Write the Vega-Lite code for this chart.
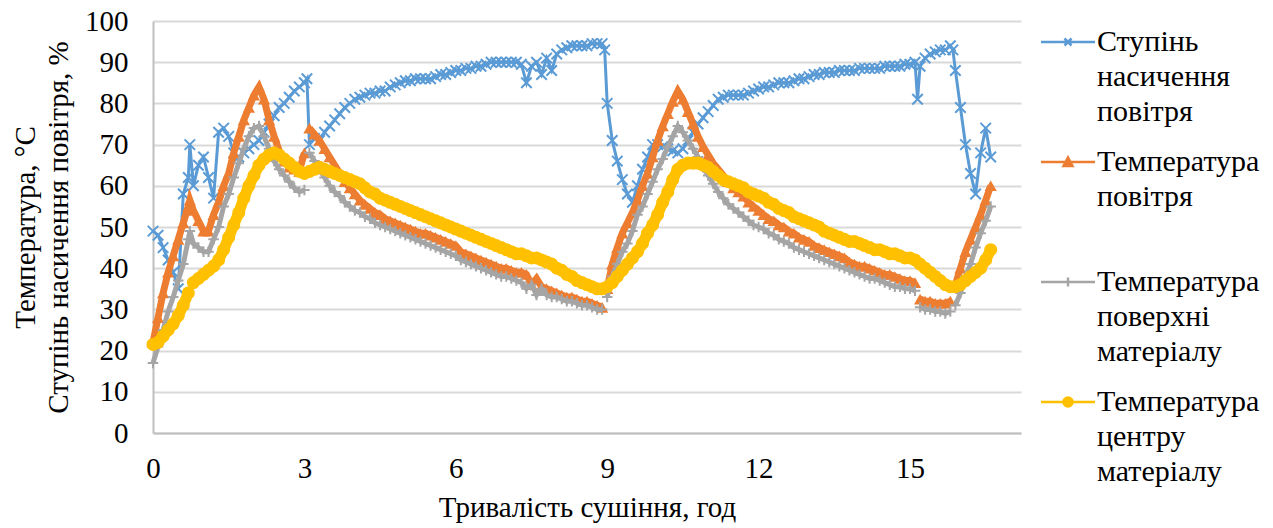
{
  "$schema": "https://vega.github.io/schema/vega-lite/v6.json",
  "width": 868,
  "height": 412,
  "autosize": {"type": "none"},
  "padding": {"left": 153, "top": 21, "right": 252, "bottom": 95},
  "background": "white",
  "config": {
    "view": {"stroke": null},
    "font": "Liberation Serif, Times New Roman, DejaVu Serif, serif",
    "axis": {
      "labelFont": "Liberation Serif, Times New Roman, DejaVu Serif, serif",
      "labelFontSize": 29,
      "labelColor": "#000000",
      "titleFont": "Liberation Serif, Times New Roman, DejaVu Serif, serif",
      "titleFontSize": 29,
      "titleFontWeight": "normal",
      "titleColor": "#000000",
      "ticks": false,
      "tickSize": 0,
      "domainColor": "#bfbfbf",
      "domainWidth": 2,
      "gridColor": "#d9d9d9",
      "gridWidth": 2
    }
  },
  "data": {
    "values": [
      {"t":0.0,"b":49,"a":22,"p":17,"c":21.5},
      {"t":0.1,"b":48,"a":28,"p":21,"c":22},
      {"t":0.2,"b":45,"a":34,"p":25,"c":23.5},
      {"t":0.3,"b":42,"a":39,"p":29.5,"c":25},
      {"t":0.4,"b":39,"a":43,"p":33,"c":26.5},
      {"t":0.5,"b":35,"a":47,"p":37,"c":28.5},
      {"t":0.6,"b":58,"a":51,"p":41,"c":31},
      {"t":0.7,"b":62,"a":55,"p":47,"c":34},
      {"t":0.73,"b":70,"a":56.5,"p":49},
      {"t":0.8,"b":60,"a":54,"p":46,"c":36.5},
      {"t":0.9,"b":65,"a":51.5,"p":45,"c":37.5},
      {"t":1.0,"b":67,"a":49,"p":44,"c":38.5},
      {"t":1.1,"b":62,"a":49,"p":44,"c":39.5},
      {"t":1.2,"b":57,"a":53,"p":47,"c":40.5},
      {"t":1.3,"b":73,"a":56,"p":50,"c":42},
      {"t":1.4,"b":74,"a":60,"p":55,"c":44.5},
      {"t":1.5,"b":72,"a":63,"p":58,"c":47.5},
      {"t":1.6,"b":68,"a":68,"p":62,"c":50.5},
      {"t":1.7,"b":67,"a":72,"p":65.5,"c":53.5},
      {"t":1.8,"b":68,"a":76,"p":69,"c":57},
      {"t":1.9,"b":69,"a":79,"p":72,"c":60},
      {"t":2.0,"b":70,"a":82,"p":74,"c":62.5},
      {"t":2.1,"b":71,"a":84,"p":74.5,"c":65},
      {"t":2.2,"b":73,"a":81,"p":72,"c":66.5},
      {"t":2.3,"b":75,"a":76,"p":69,"c":67.5},
      {"t":2.4,"b":77,"a":72,"p":66,"c":68},
      {"t":2.5,"b":79,"a":68.5,"p":64,"c":67.5},
      {"t":2.6,"b":80,"a":66,"p":62.5,"c":66.5},
      {"t":2.7,"b":81.5,"a":64.5,"p":61,"c":65.5},
      {"t":2.8,"b":83,"a":64,"p":59.5,"c":64.5},
      {"t":2.9,"b":84,"a":63.5,"p":58.5,"c":63.5},
      {"t":3.0,"b":85,"a":68,"p":59,"c":63},
      {"t":3.05,"b":86},
      {"t":3.1,"b":70,"a":74,"p":68,"c":63.5},
      {"t":3.2,"b":71.5,"a":72.5,"p":66,"c":64},
      {"t":3.3,"b":71,"a":71,"p":64,"c":64.5},
      {"t":3.4,"b":73,"a":69,"p":62,"c":64},
      {"t":3.5,"b":74.5,"a":67,"p":60,"c":63.5},
      {"t":3.6,"b":76,"a":65,"p":58.5,"c":63},
      {"t":3.7,"b":77.5,"a":63,"p":57.5,"c":62.5},
      {"t":3.8,"b":79,"a":61,"p":56,"c":62},
      {"t":3.9,"b":80,"a":59.5,"p":55,"c":61.5},
      {"t":4.0,"b":81,"a":58,"p":54,"c":61},
      {"t":4.1,"b":81.5,"a":56.5,"p":53.5,"c":60.5},
      {"t":4.2,"b":82,"a":55.5,"p":52.5,"c":59.5},
      {"t":4.3,"b":82.5,"a":54.5,"p":52,"c":58.5},
      {"t":4.4,"b":82.5,"a":53.5,"p":51,"c":58},
      {"t":4.5,"b":83,"a":53,"p":50.5,"c":57},
      {"t":4.6,"b":83,"a":52,"p":50,"c":56.5},
      {"t":4.7,"b":84,"a":51.5,"p":49.5,"c":56},
      {"t":4.8,"b":84.5,"a":51,"p":49,"c":55.5},
      {"t":4.9,"b":85,"a":50.5,"p":48.5,"c":55},
      {"t":5.0,"b":85.5,"a":50,"p":48,"c":54.5},
      {"t":5.1,"b":85.5,"a":49.5,"p":47.5,"c":54},
      {"t":5.2,"b":86,"a":49,"p":47,"c":53.5},
      {"t":5.3,"b":86,"a":48.5,"p":46.5,"c":53},
      {"t":5.4,"b":86,"a":48.5,"p":46,"c":52.5},
      {"t":5.5,"b":86,"a":48,"p":45.5,"c":52},
      {"t":5.6,"b":86.5,"a":47.5,"p":45,"c":51.5},
      {"t":5.7,"b":87,"a":47,"p":44.5,"c":51},
      {"t":5.8,"b":87,"a":46.5,"p":44,"c":50.5},
      {"t":5.9,"b":87.5,"a":46,"p":43.5,"c":50},
      {"t":6.0,"b":88,"a":45.5,"p":43,"c":49.5},
      {"t":6.1,"b":88,"a":44,"p":42,"c":49},
      {"t":6.2,"b":88.5,"a":43.5,"p":41.5,"c":48.5},
      {"t":6.3,"b":88.5,"a":43,"p":41,"c":48},
      {"t":6.4,"b":89,"a":42.5,"p":40.5,"c":47.5},
      {"t":6.5,"b":89,"a":42,"p":40,"c":47},
      {"t":6.6,"b":89.5,"a":41.5,"p":39.5,"c":46.5},
      {"t":6.7,"b":90,"a":41,"p":39,"c":46},
      {"t":6.8,"b":90,"a":40.5,"p":38.5,"c":45.5},
      {"t":6.9,"b":90,"a":40,"p":38,"c":45},
      {"t":7.0,"b":90,"a":40,"p":38,"c":44.5},
      {"t":7.1,"b":90,"a":39.5,"p":37.5,"c":44},
      {"t":7.2,"b":90,"a":39,"p":37,"c":43.5},
      {"t":7.3,"b":89.5,"a":39,"p":36.5,"c":43.5},
      {"t":7.4,"b":85,"a":38.5,"p":35,"c":43},
      {"t":7.5,"b":89,"a":36,"p":36,"c":42.5},
      {"t":7.6,"b":90,"a":37.5,"p":33.5,"c":42.5},
      {"t":7.7,"b":87,"a":35.5,"p":35,"c":42},
      {"t":7.8,"b":91,"a":35,"p":33.5,"c":41.5},
      {"t":7.9,"b":88,"a":34.5,"p":33,"c":41},
      {"t":8.0,"b":92,"a":34,"p":33,"c":40},
      {"t":8.1,"b":93,"a":33.5,"p":32.5,"c":39.5},
      {"t":8.2,"b":93.5,"a":33,"p":32,"c":38.5},
      {"t":8.3,"b":94,"a":33,"p":32,"c":38},
      {"t":8.4,"b":94,"a":32.5,"p":31.5,"c":37},
      {"t":8.5,"b":94,"a":32,"p":31,"c":36.5},
      {"t":8.6,"b":94,"a":32,"p":31,"c":36},
      {"t":8.7,"b":94.5,"a":31.5,"p":30.5,"c":35.5},
      {"t":8.8,"b":94.5,"a":31,"p":30,"c":35},
      {"t":8.9,"b":94.5,"a":30.5,"p":30,"c":35},
      {"t":8.95,"b":93},
      {"t":9.0,"b":80,"a":35,"p":33,"c":35.5},
      {"t":9.1,"b":71,"a":41,"p":38,"c":36.5},
      {"t":9.2,"b":66,"a":45,"p":41,"c":38},
      {"t":9.3,"b":61.5,"a":48.5,"p":44,"c":39.5},
      {"t":9.4,"b":58,"a":51,"p":46,"c":41},
      {"t":9.5,"b":56,"a":53.5,"p":49,"c":42.5},
      {"t":9.6,"b":60,"a":56.5,"p":53,"c":44},
      {"t":9.7,"b":64,"a":60,"p":55,"c":46},
      {"t":9.8,"b":67,"a":63,"p":58,"c":48.5},
      {"t":9.9,"b":70,"a":67,"p":61,"c":50.5},
      {"t":10.0,"b":70,"a":71,"p":64,"c":53},
      {"t":10.1,"b":69.5,"a":74.5,"p":66.5,"c":56},
      {"t":10.2,"b":69,"a":77.5,"p":69.5,"c":58.5},
      {"t":10.3,"b":68.5,"a":80.5,"p":72,"c":61.5},
      {"t":10.4,"b":68,"a":83,"p":74.5,"c":64},
      {"t":10.5,"b":69,"a":81,"p":73,"c":65},
      {"t":10.6,"b":71,"a":78,"p":71,"c":65.5},
      {"t":10.7,"b":73,"a":75,"p":69,"c":65.5},
      {"t":10.8,"b":75,"a":72,"p":67,"c":65.5},
      {"t":10.9,"b":76.5,"a":69.5,"p":64.5,"c":65},
      {"t":11.0,"b":78,"a":67.5,"p":62.5,"c":64.5},
      {"t":11.1,"b":79.5,"a":65.5,"p":60.5,"c":63.5},
      {"t":11.2,"b":81,"a":64,"p":58.5,"c":62.5},
      {"t":11.3,"b":81.5,"a":62.5,"p":57,"c":61.5},
      {"t":11.4,"b":82,"a":61,"p":55.5,"c":61},
      {"t":11.5,"b":82,"a":59.5,"p":54.5,"c":60.5},
      {"t":11.6,"b":82,"a":58.5,"p":53.5,"c":60},
      {"t":11.7,"b":82,"a":57.5,"p":52.5,"c":59.5},
      {"t":11.8,"b":82.5,"a":56,"p":51.5,"c":58.5},
      {"t":11.9,"b":83,"a":55,"p":50.5,"c":58},
      {"t":12.0,"b":83.5,"a":54,"p":50,"c":57.5},
      {"t":12.1,"b":84,"a":53,"p":49.5,"c":57},
      {"t":12.2,"b":84,"a":52,"p":48.5,"c":56},
      {"t":12.3,"b":84.5,"a":51.5,"p":48,"c":55.5},
      {"t":12.4,"b":85,"a":50.5,"p":47,"c":54.5},
      {"t":12.5,"b":85,"a":50,"p":46.5,"c":54},
      {"t":12.6,"b":85,"a":49,"p":46,"c":53.5},
      {"t":12.7,"b":85.5,"a":48.5,"p":45,"c":52.5},
      {"t":12.8,"b":86,"a":47.5,"p":44.5,"c":52},
      {"t":12.9,"b":86,"a":47,"p":44,"c":51.5},
      {"t":13.0,"b":86.5,"a":46.5,"p":43.5,"c":51},
      {"t":13.1,"b":87,"a":45.5,"p":43,"c":50.5},
      {"t":13.2,"b":87,"a":45,"p":42.5,"c":50},
      {"t":13.3,"b":87.5,"a":44.5,"p":42,"c":49},
      {"t":13.4,"b":87.5,"a":44,"p":41.5,"c":48.5},
      {"t":13.5,"b":87.5,"a":43.5,"p":41,"c":48},
      {"t":13.6,"b":88,"a":43,"p":40.5,"c":47.5},
      {"t":13.7,"b":88,"a":42.5,"p":40,"c":47},
      {"t":13.8,"b":88,"a":41.5,"p":39.5,"c":46.5},
      {"t":13.9,"b":88,"a":41,"p":39,"c":46.5},
      {"t":14.0,"b":88.5,"a":40.5,"p":38.5,"c":46},
      {"t":14.1,"b":88.5,"a":40.5,"p":38,"c":45.5},
      {"t":14.2,"b":88.5,"a":40,"p":37.5,"c":45},
      {"t":14.3,"b":88.5,"a":39.5,"p":37.5,"c":44.5},
      {"t":14.4,"b":88.5,"a":39,"p":37,"c":44.5},
      {"t":14.5,"b":89,"a":38.5,"p":36.5,"c":44},
      {"t":14.6,"b":89,"a":38.5,"p":36,"c":43.5},
      {"t":14.7,"b":89,"a":38,"p":35.5,"c":43.5},
      {"t":14.8,"b":89,"a":37.5,"p":35.5,"c":43},
      {"t":14.9,"b":89.5,"a":37,"p":35,"c":42.5},
      {"t":15.0,"b":89.5,"a":37,"p":35,"c":42.5},
      {"t":15.1,"b":90,"a":36.5,"p":34.5,"c":42},
      {"t":15.15,"b":81},
      {"t":15.2,"b":89,"a":32.5,"p":30.5,"c":41},
      {"t":15.3,"b":91,"a":32,"p":30,"c":40},
      {"t":15.4,"b":92,"a":32,"p":30,"c":39},
      {"t":15.5,"b":92.5,"a":31.5,"p":29.5,"c":38},
      {"t":15.6,"b":93,"a":31.5,"p":29.5,"c":37},
      {"t":15.7,"b":93,"a":31.5,"p":29,"c":36},
      {"t":15.8,"b":94,"a":32,"p":29.5,"c":35.5},
      {"t":15.85,"b":93},
      {"t":15.9,"b":88,"a":36,"p":31,"c":35.5},
      {"t":16.0,"b":79,"a":40,"p":34,"c":36},
      {"t":16.1,"b":70,"a":44,"p":38,"c":37},
      {"t":16.2,"b":63,"a":47,"p":41,"c":38},
      {"t":16.3,"b":58,"a":50,"p":45,"c":39},
      {"t":16.4,"b":68,"a":53,"p":48.5,"c":40},
      {"t":16.5,"b":74,"a":56.5,"p":51.5,"c":42},
      {"t":16.6,"b":67,"a":60,"p":55,"c":44.5}
    ]
  },
  "transform": [{"fold": ["b", "a", "p", "c"], "as": ["k", "v"]}],
  "encoding": {
    "x": {
      "field": "t",
      "type": "quantitative",
      "scale": {"domain": [0, 17.2], "nice": false, "zero": false},
      "axis": {
        "title": "Тривалість сушіння, год",
        "values": [0, 3, 6, 9, 12, 15],
        "grid": false,
        "labelPadding": 21,
        "labelFlush": false,
        "titlePadding": 10
      }
    },
    "y": {
      "field": "v",
      "type": "quantitative",
      "scale": {"domain": [0, 100], "nice": false},
      "axis": {
        "title": ["Температура, °C", "Ступінь насичення повітря, %"],
        "values": [0, 10, 20, 30, 40, 50, 60, 70, 80, 90, 100],
        "grid": true,
        "labelPadding": 25,
        "titlePadding": 11,
        "titleLineHeight": 33
      }
    },
    "color": {
      "field": "k",
      "type": "nominal",
      "scale": {"domain": ["b", "a", "p", "c"], "range": ["#5b9bd5", "#ed7d31", "#a5a5a5", "#ffc000"]},
      "legend": {
        "title": null,
        "orient": "none",
        "legendX": 885,
        "legendY": 6,
        "labelExpr": "datum.value === 'b' ? ['Ступінь', 'насичення', 'повітря'] : datum.value === 'a' ? ['Температура', 'повітря'] : datum.value === 'p' ? ['Температура', 'поверхні', 'матеріалу'] : ['Температура', 'центру', 'матеріалу']",
        "labelFont": "Liberation Serif, Times New Roman, DejaVu Serif, serif",
        "labelFontSize": 30,
        "labelColor": "#000000",
        "labelLimit": 0,
        "labelBaseline": "top",
        "symbolSize": 400,
        "symbolStrokeWidth": 2.5,
        "symbolOffset": 15,
        "labelOffset": 14,
        "gridAlign": "all",
        "rowPadding": 20,
        "encoding": {
          "symbols": {
            "shape": {"value": {"expr": "datum.value === 'b' ? 'M-2.7,0H2.7M-0.35,-0.35L0.35,0.35M-0.35,0.35L0.35,-0.35' : datum.value === 'a' ? 'M-2.7,0H2.7M0,-0.45L0.45,0.4H-0.45Z' : datum.value === 'p' ? 'M-2.7,0H2.7M0,-0.45V0.45' : 'M-2.7,0H2.7M-0.45,0A0.45,0.45 0 1,0 0.45,0A0.45,0.45 0 1,0 -0.45,0Z'"}},
            "fill": {"value": {"expr": "scale('color', datum.value)"}},
            "stroke": {"value": {"expr": "scale('color', datum.value)"}},
            "fillOpacity": {"value": 1}
          },
          "labels": {
            "lineHeight": {"value": 35},
            "dy": {"value": -15}
          }
        }
      }
    }
  },
  "layer": [
    {
      "transform": [{"filter": "datum.k === 'b'"}],
      "mark": {"type": "line", "strokeWidth": 3, "point": {"shape": "M-1,-1L1,1M-1,1L1,-1", "filled": false, "size": 110, "strokeWidth": 2}}
    },
    {
      "transform": [{"filter": "datum.k === 'a'"}],
      "mark": {"type": "line", "strokeWidth": 7, "point": {"shape": "triangle-up", "filled": true, "size": 150}}
    },
    {
      "transform": [{"filter": "datum.k === 'p'"}],
      "mark": {"type": "line", "strokeWidth": 5, "point": {"shape": "M0,-1V1M-1,0H1", "filled": false, "size": 110, "strokeWidth": 2}}
    },
    {
      "transform": [{"filter": "datum.k === 'c'"}],
      "mark": {"type": "line", "strokeWidth": 11, "strokeCap": "round", "point": {"shape": "circle", "filled": true, "size": 170, "opacity": 1}}
    }
  ]
}
